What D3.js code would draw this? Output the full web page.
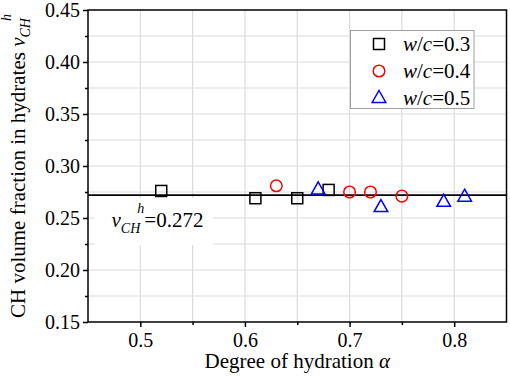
<!DOCTYPE html>
<html>
<head>
<meta charset="utf-8">
<script src="https://cdn.jsdelivr.net/npm/d3@7"></script>
<style>
  body { margin: 0; background: #fff; }
  svg text { font-family: "Liberation Serif", "Times New Roman", serif !important; }
</style>
</head>
<body>
<div id="chart"></div>
<script>
// data
var series = ["w/c=0.3", "w/c=0.4", "w/c=0.5"];
var alpha03 = [0.52, 0.61, 0.65, 0.68];
var vch03   = [0.276, 0.269, 0.269, 0.277];
var alpha04 = [0.63, 0.70, 0.72, 0.75];
var vch04   = [0.281, 0.275, 0.275, 0.271];
var alpha05 = [0.67, 0.73, 0.79, 0.81];
var vch05   = [0.278, 0.261, 0.266, 0.271];
var fitValue = 0.272;
var xTicks = [0.5, 0.6, 0.7, 0.8];
var yTicks = [0.15, 0.20, 0.25, 0.30, 0.35, 0.40, 0.45];

var margin = { top: 10, right: 3.5, bottom: 55, left: 88 },
    width = 510 - margin.left - margin.right,
    height = 377 - margin.top - margin.bottom;

var svg = d3.select("#chart")
  .append("svg")
  .attr("width", 510)
  .attr("height", 377);

var g = svg.append("g")
  .attr("transform", "translate(" + margin.left + "," + margin.top + ")");

var x = d3.scaleLinear().domain([0.45, 0.85]).range([0, width]);
var y = d3.scaleLinear().domain([0.15, 0.45]).range([height, 0]);

// grid (major + minor)
var xGrid = d3.range(0.50, 0.85, 0.05);
var yGrid = d3.range(0.175, 0.45, 0.025);
g.selectAll(".vgrid")
  .data(xGrid)
  .enter()
  .append("line")
  .attr("x1", function(d) { return x(d); })
  .attr("x2", function(d) { return x(d); })
  .attr("y1", 0)
  .attr("y2", height)
  .attr("stroke", "#dcdcdc")
  .attr("stroke-width", 1.2);
g.selectAll(".hgrid")
  .data(yGrid)
  .enter()
  .append("line")
  .attr("x1", 0)
  .attr("x2", width)
  .attr("y1", function(d) { return y(d); })
  .attr("y2", function(d) { return y(d); })
  .attr("stroke", "#dcdcdc")
  .attr("stroke-width", 1.2);

// axes
var xAxis = g.append("g")
  .attr("transform", "translate(0," + height + ")")
  .call(d3.axisBottom(x).tickValues(xTicks).tickFormat(d3.format(".1f")).tickSize(5).tickPadding(6));
var xMinor = g.append("g")
  .attr("transform", "translate(0," + height + ")")
  .call(d3.axisBottom(x).tickValues([0.55, 0.65, 0.75]).tickFormat("").tickSize(3));
var yAxis = g.append("g")
  .call(d3.axisLeft(y).tickValues(yTicks).tickFormat(d3.format(".2f")).tickSize(5).tickPadding(3));
var yMinor = g.append("g")
  .call(d3.axisLeft(y).tickValues(d3.range(0.175, 0.45, 0.05)).tickFormat("").tickSize(3));

[xAxis, xMinor, yAxis, yMinor].forEach(function(a) {
  a.attr("font-family", "Liberation Serif").attr("font-size", 20);
  a.select(".domain").remove();
  a.selectAll("line").attr("stroke", "#000").attr("stroke-width", 1.5);
  a.selectAll("text").attr("fill", "#000");
});

// frame
g.append("rect")
  .attr("x", 0).attr("y", 0)
  .attr("width", width).attr("height", height)
  .attr("fill", "none")
  .attr("stroke", "#000")
  .attr("stroke-width", 1.5);

// annotation box + text
var ann = g.append("g");
ann.append("rect")
  .attr("x", x(0.4565))
  .attr("y", y(fitValue) + 3)
  .attr("width", 118)
  .attr("height", 47)
  .attr("fill", "#fff");
var annText = ann.append("text")
  .attr("x", x(0.4725))
  .attr("y", y(fitValue) + 32)
  .style("font-size", "21px");
annText.append("tspan").style("font-style", "italic").text("v");
annText.append("tspan").style("font-style", "italic").style("font-size", "14px").attr("dy", 6).text("CH");
annText.append("tspan").style("font-style", "italic").style("font-size", "14px").attr("dy", -20).attr("dx", -3).text("h");
annText.append("tspan").attr("dy", 14).text("=" + fitValue.toFixed(3));

// fitted line
g.append("line")
  .attr("x1", 0)
  .attr("x2", width)
  .attr("y1", y(fitValue))
  .attr("y2", y(fitValue))
  .attr("stroke", "#000")
  .attr("stroke-width", 1.8);

// markers
var sq = 11;
function square(sel) {
  sel.attr("x", -sq / 2).attr("y", -sq / 2).attr("width", sq).attr("height", sq)
    .attr("fill", "none").attr("stroke", "#000").attr("stroke-width", 1.5);
}
function circle(sel) {
  sel.attr("r", 5.8).attr("fill", "none").attr("stroke", "#ff0000").attr("stroke-width", 1.5);
}
var triPath = "M0,-7 L6.8,5 L-6.8,5 Z";
function tri(sel) {
  sel.attr("d", triPath).attr("fill", "none").attr("stroke", "#0000ff").attr("stroke-width", 1.5);
}

g.selectAll(".p03")
  .data(alpha03)
  .enter()
  .append("rect")
  .attr("transform", function(d, i) { return "translate(" + x(d) + "," + y(vch03[i]) + ")"; })
  .call(square);
g.selectAll(".p04")
  .data(alpha04)
  .enter()
  .append("circle")
  .attr("cx", function(d) { return x(d); })
  .attr("cy", function(d, i) { return y(vch04[i]); })
  .call(circle);
g.selectAll(".p05")
  .data(alpha05)
  .enter()
  .append("path")
  .attr("transform", function(d, i) { return "translate(" + x(d) + "," + y(vch05[i]) + ")"; })
  .call(tri);

// legend
var legend = svg.append("g").attr("transform", "translate(350.5,30.5)");
legend.append("rect")
  .attr("width", 123.5).attr("height", 78)
  .attr("fill", "#fff").attr("stroke", "#a0a0a0").attr("stroke-width", 1);
var rowY = [13.5, 40.5, 67];
series.forEach(function(s, i) {
  var row = legend.append("g").attr("transform", "translate(28.5," + rowY[i] + ")");
  if (i === 0) row.append("rect").call(square);
  if (i === 1) row.append("circle").call(circle);
  if (i === 2) row.append("path").call(tri);
  var t = row.append("text").attr("x", 24).attr("y", 7).style("font-size", "21px");
  var parts = s.split("=");
  var wc = parts[0].split("/");
  t.append("tspan").style("font-style", "italic").text(wc[0]);
  t.append("tspan").text("/");
  t.append("tspan").style("font-style", "italic").text(wc[1]);
  t.append("tspan").text("=" + parts[1]);
});

// axis titles
var xl = svg.append("text")
  .attr("x", margin.left + width / 2)
  .attr("y", 368)
  .attr("text-anchor", "middle")
  .style("font-size", "21px");
xl.append("tspan").text("Degree of hydration ");
xl.append("tspan").style("font-style", "italic").text("\u03b1");

var yl = svg.append("text")
  .attr("transform", "translate(25," + (margin.top + height / 2) + ") rotate(-90)")
  .attr("text-anchor", "middle")
  .style("font-size", "21px");
yl.append("tspan").text("CH volume fraction in hydrates ");
yl.append("tspan").style("font-style", "italic").text("v");
yl.append("tspan").style("font-style", "italic").style("font-size", "14px").attr("dy", 5).text("CH");
yl.append("tspan").style("font-style", "italic").style("font-size", "14px").attr("dy", -19).attr("dx", -3).text("h");
</script>
</body>
</html>
